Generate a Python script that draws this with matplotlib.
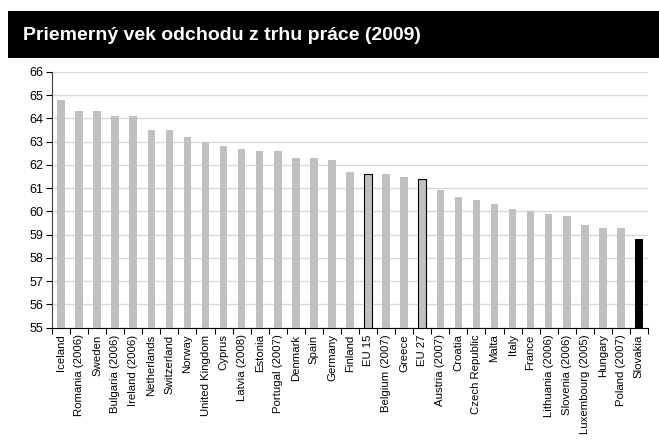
import matplotlib
matplotlib.use("Agg")
import matplotlib.pyplot as plt
from matplotlib.patches import Rectangle

title = "Priemerný vek odchodu z trhu práce (2009)"
countries = ["Iceland", "Romania (2006)", "Sweden", "Bulgaria (2006)", "Ireland (2006)",
             "Netherlands", "Switzerland", "Norway", "United Kingdom", "Cyprus",
             "Latvia (2008)", "Estonia", "Portugal (2007)", "Denmark", "Spain", "Germany",
             "Finland", "EU 15", "Belgium (2007)", "Greece", "EU 27", "Austria (2007)",
             "Croatia", "Czech Republic", "Malta", "Italy", "France", "Lithuania (2006)",
             "Slovenia (2006)", "Luxembourg (2005)", "Hungary", "Poland (2007)", "Slovakia"]
values = [64.8, 64.3, 64.3, 64.1, 64.1, 63.5, 63.5, 63.2, 63.0, 62.8,
          62.7, 62.6, 62.6, 62.3, 62.3, 62.2, 61.7, 61.6, 61.6, 61.5,
          61.4, 60.9, 60.6, 60.5, 60.3, 60.1, 60.0, 59.9, 59.8, 59.4,
          59.3, 59.3, 58.8]
y_ticks = list(range(55, 67))

font = "Liberation Sans"
fig = plt.figure(figsize=(6.59, 4.41), dpi=100)
fig.patch.set_facecolor("white")

# title bar
fig.patches.append(Rectangle((8/659, 1-58/441), 1-8/659, 47/441, transform=fig.transFigure,
                             facecolor="black", edgecolor="none", zorder=0))
fig.text(23/659, 1-35/441, title, color="white", fontsize=14, fontweight="bold",
         family=font, va="center", ha="left")

ax = fig.add_axes([52/659, 1-327.5/441, (648-52)/659, (327.5-72)/441])
x = list(range(len(countries)))
colors = []
edges = []
lws = []
for c in countries:
    if c == "Slovakia":
        colors.append("black"); edges.append("black"); lws.append(0)
    elif c.startswith("EU"):
        colors.append("#c0c0c0"); edges.append("black"); lws.append(0.8)
    else:
        colors.append("#c0c0c0"); edges.append("#c0c0c0"); lws.append(0)
ax.bar(x, [v - 55 for v in values], bottom=55, width=0.42, color=colors,
       edgecolor=edges, linewidth=lws, zorder=3)

ax.set_xlim(-0.5, len(countries) - 0.5)
ax.set_ylim(55, 66)
ax.set_yticks(y_ticks)
ax.set_yticklabels([str(t) for t in y_ticks], family=font, fontsize=9)
ax.yaxis.grid(True, color="#d9d9d9", linewidth=1, zorder=0)
ax.set_axisbelow(True)

ax.set_xticks(x)
ax.set_xticklabels(countries, rotation=90, family=font, fontsize=8.2)
ax.tick_params(axis="x", length=0, pad=5)
ax.set_xticks([i - 0.5 for i in range(len(countries) + 1)], minor=True)
ax.tick_params(axis="x", which="minor", length=4, direction="out", color="black", width=0.8)
ax.tick_params(axis="y", length=4, direction="out", color="black", width=0.8, pad=2)

for s in ["top", "right"]:
    ax.spines[s].set_visible(False)
ax.spines["left"].set_color("#404040")
ax.spines["bottom"].set_color("black")
ax.spines["left"].set_linewidth(0.8)
ax.spines["bottom"].set_linewidth(0.8)

fig.savefig("out.png", dpi=100)
